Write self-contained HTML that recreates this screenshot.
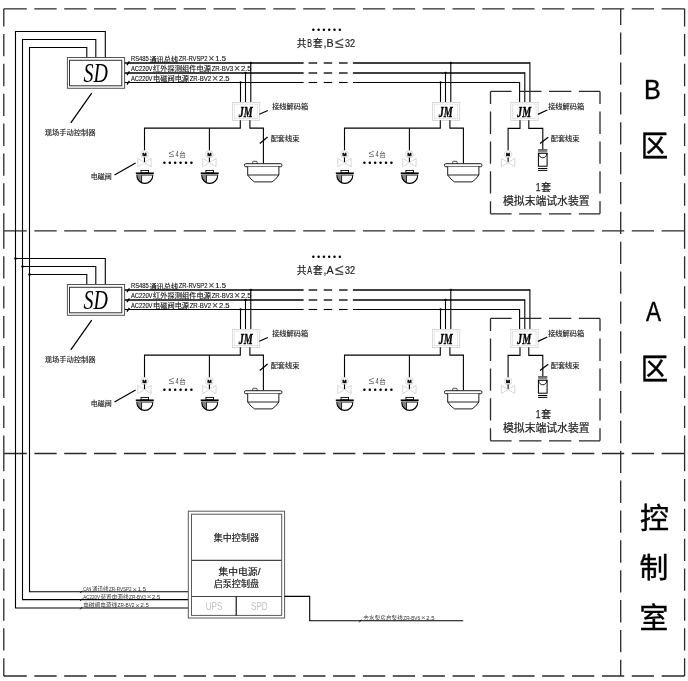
<!DOCTYPE html>
<html lang="zh"><head><meta charset="utf-8"><title>系统图</title>
<style>html,body{margin:0;padding:0;background:#fff}svg{display:block}</style></head>
<body><svg style="will-change:transform" width="688" height="681" viewBox="0 0 688 681">
<rect width="688" height="681" fill="#fff"/>
<path d="M3.80 8.80L26.78 8.80M34.35 8.80L56.65 8.80M64.22 8.80L86.52 8.80M94.09 8.80L116.39 8.80M123.96 8.80L146.26 8.80M153.83 8.80L176.13 8.80M183.70 8.80L206.00 8.80M213.57 8.80L235.87 8.80M243.44 8.80L265.74 8.80M273.31 8.80L295.61 8.80M303.18 8.80L325.48 8.80M333.05 8.80L355.35 8.80M362.92 8.80L385.22 8.80M392.79 8.80L415.09 8.80M422.66 8.80L444.96 8.80M452.53 8.80L474.83 8.80M482.40 8.80L504.70 8.80M512.27 8.80L534.57 8.80M542.14 8.80L564.44 8.80M572.01 8.80L594.31 8.80M601.88 8.80L624.18 8.80M631.75 8.80L654.05 8.80M661.62 8.80L684.60 8.80" stroke="#2a2a2a" stroke-width="1.3" fill="none"/>
<path d="M3.80 230.80L26.78 230.80M34.35 230.80L56.65 230.80M64.22 230.80L86.52 230.80M94.09 230.80L116.39 230.80M123.96 230.80L146.26 230.80M153.83 230.80L176.13 230.80M183.70 230.80L206.00 230.80M213.57 230.80L235.87 230.80M243.44 230.80L265.74 230.80M273.31 230.80L295.61 230.80M303.18 230.80L325.48 230.80M333.05 230.80L355.35 230.80M362.92 230.80L385.22 230.80M392.79 230.80L415.09 230.80M422.66 230.80L444.96 230.80M452.53 230.80L474.83 230.80M482.40 230.80L504.70 230.80M512.27 230.80L534.57 230.80M542.14 230.80L564.44 230.80M572.01 230.80L594.31 230.80M601.88 230.80L624.18 230.80M631.75 230.80L654.05 230.80M661.62 230.80L684.60 230.80" stroke="#2a2a2a" stroke-width="1.3" fill="none"/>
<path d="M3.80 453.50L26.78 453.50M34.35 453.50L56.65 453.50M64.22 453.50L86.52 453.50M94.09 453.50L116.39 453.50M123.96 453.50L146.26 453.50M153.83 453.50L176.13 453.50M183.70 453.50L206.00 453.50M213.57 453.50L235.87 453.50M243.44 453.50L265.74 453.50M273.31 453.50L295.61 453.50M303.18 453.50L325.48 453.50M333.05 453.50L355.35 453.50M362.92 453.50L385.22 453.50M392.79 453.50L415.09 453.50M422.66 453.50L444.96 453.50M452.53 453.50L474.83 453.50M482.40 453.50L504.70 453.50M512.27 453.50L534.57 453.50M542.14 453.50L564.44 453.50M572.01 453.50L594.31 453.50M601.88 453.50L624.18 453.50M631.75 453.50L654.05 453.50M661.62 453.50L684.60 453.50" stroke="#2a2a2a" stroke-width="1.3" fill="none"/>
<path d="M3.80 676.00L26.78 676.00M34.35 676.00L56.65 676.00M64.22 676.00L86.52 676.00M94.09 676.00L116.39 676.00M123.96 676.00L146.26 676.00M153.83 676.00L176.13 676.00M183.70 676.00L206.00 676.00M213.57 676.00L235.87 676.00M243.44 676.00L265.74 676.00M273.31 676.00L295.61 676.00M303.18 676.00L325.48 676.00M333.05 676.00L355.35 676.00M362.92 676.00L385.22 676.00M392.79 676.00L415.09 676.00M422.66 676.00L444.96 676.00M452.53 676.00L474.83 676.00M482.40 676.00L504.70 676.00M512.27 676.00L534.57 676.00M542.14 676.00L564.44 676.00M572.01 676.00L594.31 676.00M601.88 676.00L624.18 676.00M631.75 676.00L654.05 676.00M661.62 676.00L684.60 676.00" stroke="#2a2a2a" stroke-width="1.3" fill="none"/>
<path d="M3.80 8.80L3.80 26.40M3.80 33.97L3.80 56.27M3.80 63.84L3.80 86.14M3.80 93.71L3.80 116.01M3.80 123.58L3.80 145.89M3.80 153.46L3.80 175.76M3.80 183.33L3.80 205.63M3.80 213.20L3.80 230.80" stroke="#2a2a2a" stroke-width="1.3" fill="none"/>
<path d="M3.80 230.80L3.80 248.75M3.80 256.32L3.80 278.62M3.80 286.19L3.80 308.50M3.80 316.06L3.80 338.37M3.80 345.94L3.80 368.24M3.80 375.81L3.80 398.11M3.80 405.68L3.80 427.98M3.80 435.55L3.80 453.50" stroke="#2a2a2a" stroke-width="1.3" fill="none"/>
<path d="M3.80 453.50L3.80 471.36M3.80 478.93L3.80 501.23M3.80 508.79L3.80 531.10M3.80 538.66L3.80 560.97M3.80 568.53L3.80 590.84M3.80 598.40L3.80 620.71M3.80 628.27L3.80 650.58M3.80 658.14L3.80 676.00" stroke="#2a2a2a" stroke-width="1.3" fill="none"/>
<path d="M684.60 8.80L684.60 26.40M684.60 33.97L684.60 56.27M684.60 63.84L684.60 86.14M684.60 93.71L684.60 116.01M684.60 123.58L684.60 145.89M684.60 153.46L684.60 175.76M684.60 183.33L684.60 205.63M684.60 213.20L684.60 230.80" stroke="#2a2a2a" stroke-width="1.3" fill="none"/>
<path d="M684.60 230.80L684.60 248.75M684.60 256.32L684.60 278.62M684.60 286.19L684.60 308.50M684.60 316.06L684.60 338.37M684.60 345.94L684.60 368.24M684.60 375.81L684.60 398.11M684.60 405.68L684.60 427.98M684.60 435.55L684.60 453.50" stroke="#2a2a2a" stroke-width="1.3" fill="none"/>
<path d="M684.60 453.50L684.60 471.36M684.60 478.93L684.60 501.23M684.60 508.79L684.60 531.10M684.60 538.66L684.60 560.97M684.60 568.53L684.60 590.84M684.60 598.40L684.60 620.71M684.60 628.27L684.60 650.58M684.60 658.14L684.60 676.00" stroke="#2a2a2a" stroke-width="1.3" fill="none"/>
<path d="M620.70 8.80L620.70 24.98M620.70 32.55L620.70 54.85M620.70 62.42L620.70 84.72M620.70 92.29L620.70 114.59M620.70 122.16L620.70 144.46M620.70 152.03L620.70 174.33M620.70 181.90L620.70 204.20M620.70 211.77L620.70 234.07M620.70 241.64L620.70 263.94M620.70 271.51L620.70 293.81M620.70 301.38L620.70 323.68M620.70 331.25L620.70 353.55M620.70 361.12L620.70 383.42M620.70 390.99L620.70 413.29M620.70 420.86L620.70 443.16M620.70 450.73L620.70 473.03M620.70 480.60L620.70 502.90M620.70 510.47L620.70 532.77M620.70 540.34L620.70 562.64M620.70 570.21L620.70 592.51M620.70 600.08L620.70 622.38M620.70 629.95L620.70 652.25M620.70 659.82L620.70 676.00" stroke="#2a2a2a" stroke-width="1.3" fill="none"/>
<path d="M86.80 57.60L86.80 47.50L29.50 47.50L29.50 591.80L188.30 591.80" stroke="#000" stroke-width="1.1" fill="none" />
<path d="M95.80 57.60L95.80 39.50L22.50 39.50L22.50 599.60L188.30 599.60" stroke="#000" stroke-width="1.1" fill="none" />
<path d="M105.30 57.60L105.30 31.50L15.50 31.50L15.50 608.00L188.30 608.00" stroke="#000" stroke-width="1.1" fill="none" />
<path d="M86.80 284.60L86.80 274.50L29.50 274.50" stroke="#000" stroke-width="1.1" fill="none" />
<circle cx="29.50" cy="274.50" r="1.25" fill="#000"/>
<path d="M95.80 284.60L95.80 266.50L22.50 266.50" stroke="#000" stroke-width="1.1" fill="none" />
<circle cx="22.50" cy="266.50" r="1.25" fill="#000"/>
<path d="M105.30 284.60L105.30 258.50L15.50 258.50" stroke="#000" stroke-width="1.1" fill="none" />
<circle cx="15.50" cy="258.50" r="1.25" fill="#000"/>
<rect x="67.4" y="57.50" width="57.2" height="30.8" fill="#fff" stroke="#555" stroke-width="1"/>
<rect x="69.5" y="60.30" width="52.3" height="25.5" fill="none" stroke="#333" stroke-width="1"/>
<text x="95.80" y="82.00" font-family='"Liberation Serif","Noto Serif CJK SC",serif' font-size="27" fill="#000" text-anchor="middle" textLength="24.40" lengthAdjust="spacingAndGlyphs" font-style="italic">SD</text>
<path d="M91.70 93.20L70.80 122.90" stroke="#000" stroke-width="1.25" fill="none" />
<text y="135.20" text-anchor="middle" font-family='"Liberation Sans","Noto Sans CJK SC",sans-serif' fill="#222" stroke="#222" stroke-width="0.15"><tspan x="70.09" y="135.20" font-size="7.00" textLength="50.65" lengthAdjust="spacingAndGlyphs">现场手动控制器</tspan></text>
<path d="M124.80 63.00L303.60 63.00" stroke="#000" stroke-width="1.3" fill="none" />
<path d="M308.60 63.00L317.20 63.00" stroke="#000" stroke-width="1.3" fill="none" />
<path d="M323.70 63.00L332.20 63.00" stroke="#000" stroke-width="1.3" fill="none" />
<path d="M339.00 63.00L347.60 63.00" stroke="#000" stroke-width="1.3" fill="none" />
<path d="M352.90 63.00L529.90 63.00" stroke="#000" stroke-width="1.3" fill="none" />
<path d="M529.90 62.35L529.90 102.40" stroke="#000" stroke-width="1.1" fill="none" />
<path d="M127.00 65.10L129.40 61.40" stroke="#000" stroke-width="1.3" fill="none" />
<path d="M124.80 73.00L303.60 73.00" stroke="#000" stroke-width="1.3" fill="none" />
<path d="M308.60 73.00L317.20 73.00" stroke="#000" stroke-width="1.3" fill="none" />
<path d="M323.70 73.00L332.20 73.00" stroke="#000" stroke-width="1.3" fill="none" />
<path d="M339.00 73.00L347.60 73.00" stroke="#000" stroke-width="1.3" fill="none" />
<path d="M352.90 73.00L524.80 73.00" stroke="#000" stroke-width="1.3" fill="none" />
<path d="M524.80 72.35L524.80 102.40" stroke="#000" stroke-width="1.1" fill="none" />
<path d="M127.00 75.10L129.40 71.40" stroke="#000" stroke-width="1.3" fill="none" />
<path d="M124.80 82.50L303.60 82.50" stroke="#000" stroke-width="1.1" fill="none" />
<path d="M308.60 82.50L317.20 82.50" stroke="#000" stroke-width="1.1" fill="none" />
<path d="M323.70 82.50L332.20 82.50" stroke="#000" stroke-width="1.1" fill="none" />
<path d="M339.00 82.50L347.60 82.50" stroke="#000" stroke-width="1.1" fill="none" />
<path d="M352.90 82.50L519.60 82.50" stroke="#000" stroke-width="1.1" fill="none" />
<path d="M519.60 81.95L519.60 102.40" stroke="#000" stroke-width="1.1" fill="none" />
<path d="M127.00 84.60L129.40 80.90" stroke="#000" stroke-width="1.3" fill="none" />
<text y="61.50" text-anchor="middle" font-family='"Liberation Sans","Noto Sans CJK SC",sans-serif' fill="#111" stroke="#111" stroke-width="0.12"><tspan x="139.88" y="61.00" font-family='"Liberation Sans",sans-serif' font-size="7.30" textLength="17.91" lengthAdjust="spacingAndGlyphs">RS485</tspan><tspan x="163.73" y="61.50" font-size="7.00" textLength="28.63" lengthAdjust="spacingAndGlyphs">通讯总线</tspan><tspan x="193.09" y="61.00" font-family='"Liberation Sans",sans-serif' font-size="7.30" textLength="28.92" lengthAdjust="spacingAndGlyphs">ZR-RVSP2</tspan><tspan x="211.44" y="61.94" font-size="10.64" fill-opacity="0.8">×</tspan><tspan x="220.61" y="61.00" font-family='"Liberation Sans",sans-serif' font-size="7.30" textLength="10.57" lengthAdjust="spacingAndGlyphs">1.5</tspan></text>
<text y="71.40" text-anchor="middle" font-family='"Liberation Sans","Noto Sans CJK SC",sans-serif' fill="#111" stroke="#111" stroke-width="0.12"><tspan x="141.71" y="70.90" font-family='"Liberation Sans",sans-serif' font-size="7.30" textLength="21.58" lengthAdjust="spacingAndGlyphs">AC220V</tspan><tspan x="182.08" y="71.40" font-size="7.00" textLength="57.99" lengthAdjust="spacingAndGlyphs">红外探测组件电源</tspan><tspan x="222.45" y="70.90" font-family='"Liberation Sans",sans-serif' font-size="7.30" textLength="21.58" lengthAdjust="spacingAndGlyphs">ZR-BV3</tspan><tspan x="237.13" y="71.84" font-size="10.64" fill-opacity="0.8">×</tspan><tspan x="246.31" y="70.90" font-family='"Liberation Sans",sans-serif' font-size="7.30" textLength="10.57" lengthAdjust="spacingAndGlyphs">2.5</tspan></text>
<text y="81.40" text-anchor="middle" font-family='"Liberation Sans","Noto Sans CJK SC",sans-serif' fill="#111" stroke="#111" stroke-width="0.12"><tspan x="141.71" y="81.10" font-family='"Liberation Sans",sans-serif' font-size="7.30" textLength="21.58" lengthAdjust="spacingAndGlyphs">AC220V</tspan><tspan x="171.07" y="81.40" font-size="7.00" textLength="35.97" lengthAdjust="spacingAndGlyphs">电磁阀电源</tspan><tspan x="200.43" y="81.10" font-family='"Liberation Sans",sans-serif' font-size="7.30" textLength="21.58" lengthAdjust="spacingAndGlyphs">ZR-BV2</tspan><tspan x="215.11" y="81.84" font-size="10.64" fill-opacity="0.8">×</tspan><tspan x="224.29" y="81.10" font-family='"Liberation Sans",sans-serif' font-size="7.30" textLength="10.57" lengthAdjust="spacingAndGlyphs">2.5</tspan></text>
<path d="M240.50 82.50L240.50 102.60" stroke="#000" stroke-width="1.1" fill="none" />
<circle cx="240.50" cy="82.50" r="1.15" fill="#000"/>
<path d="M245.50 73.00L245.50 102.60" stroke="#000" stroke-width="1.1" fill="none" />
<circle cx="245.50" cy="73.00" r="1.15" fill="#000"/>
<path d="M250.80 63.00L250.80 102.60" stroke="#000" stroke-width="1.1" fill="none" />
<circle cx="250.80" cy="63.00" r="1.15" fill="#000"/>
<rect x="232.40" y="102.40" width="27.3" height="18" fill="#fff" stroke="#d6d6d6" stroke-width="0.9"/>
<rect x="234.20" y="104.10" width="23.5" height="14.5" fill="none" stroke="#dedede" stroke-width="0.8"/>
<text x="245.70" y="116.70" font-family='"Liberation Serif","Noto Serif CJK SC",serif' font-size="14.5" fill="#000" text-anchor="middle" textLength="14.00" lengthAdjust="spacingAndGlyphs" font-weight="bold" font-style="italic" stroke="#000" stroke-width="0.35">JM</text>
<path d="M240.30 120.20L240.30 128.10L144.50 128.10L144.50 150.70" stroke="#000" stroke-width="1.1" fill="none" />
<path d="M209.40 128.10L209.40 150.70" stroke="#000" stroke-width="1.1" fill="none" />
<path d="M249.90 120.20L249.90 128.10L263.40 128.10L263.40 163.40" stroke="#000" stroke-width="1.1" fill="none" />
<circle cx="144.50" cy="154.30" r="3.8" fill="#fff" stroke="#d2d2d2" stroke-width="0.8"/>
<text x="144.50" y="155.70" font-family='"Liberation Sans","Noto Sans CJK SC",sans-serif' font-size="4.2" fill="#000" text-anchor="middle" textLength="4.00" lengthAdjust="spacingAndGlyphs" font-weight="bold" stroke="#000" stroke-width="0.4">M</text>
<path d="M144.50 157.40L144.50 162.60" stroke="#000" stroke-width="1.1" fill="none" />
<path d="M137.80 158.40L137.80 166.70L151.20 158.40L151.20 166.70Z" fill="none" stroke="#d4d4d4" stroke-width="0.9"/>
<circle cx="209.40" cy="154.30" r="3.8" fill="#fff" stroke="#d2d2d2" stroke-width="0.8"/>
<text x="209.40" y="155.70" font-family='"Liberation Sans","Noto Sans CJK SC",sans-serif' font-size="4.2" fill="#000" text-anchor="middle" textLength="4.00" lengthAdjust="spacingAndGlyphs" font-weight="bold" stroke="#000" stroke-width="0.4">M</text>
<path d="M209.40 157.40L209.40 162.60" stroke="#000" stroke-width="1.1" fill="none" />
<path d="M202.70 158.40L202.70 166.70L216.10 158.40L216.10 166.70Z" fill="none" stroke="#d4d4d4" stroke-width="0.9"/>
<rect x="141.00" y="170.40" width="7.6" height="2.4" fill="#fff" stroke="#000" stroke-width="0.9"/>
<path d="M135.80 173.30L153.80 173.30" stroke="#000" stroke-width="1.7" fill="none" />
<path d="M136.50 175.10L153.10 175.10" stroke="#000" stroke-width="0.8" fill="none" />
<path d="M136.80 175.20L141.60 175.20L141.60 182.70A8.0 8.2 0 0 1 136.80 175.20Z" fill="#858585"/>
<path d="M136.80 175.20A8.0 8.2 0 0 0 152.80 175.20" fill="none" stroke="#000" stroke-width="1.1"/>
<path d="M141.60 175.30L141.60 182.60" stroke="#000" stroke-width="0.8" fill="none" />
<rect x="205.90" y="170.40" width="7.6" height="2.4" fill="#fff" stroke="#000" stroke-width="0.9"/>
<path d="M200.70 173.30L218.70 173.30" stroke="#000" stroke-width="1.7" fill="none" />
<path d="M201.40 175.10L218.00 175.10" stroke="#000" stroke-width="0.8" fill="none" />
<path d="M201.70 175.20L206.50 175.20L206.50 182.70A8.0 8.2 0 0 1 201.70 175.20Z" fill="#858585"/>
<path d="M201.70 175.20A8.0 8.2 0 0 0 217.70 175.20" fill="none" stroke="#000" stroke-width="1.1"/>
<path d="M206.50 175.30L206.50 182.60" stroke="#000" stroke-width="0.8" fill="none" />
<rect x="252.70" y="161.30" width="4.4" height="3" rx="0.7" fill="#fff" stroke="#222" stroke-width="0.8"/>
<rect x="244.50" y="163.70" width="37.4" height="3" rx="1.2" fill="#fff" stroke="#111" stroke-width="0.95"/>
<path d="M247.70 166.80L247.70 175.00Q250.70 179.60 254.50 181.90L272.10 181.90Q275.90 179.60 278.90 175.00L278.90 166.80" fill="#fff" stroke="#111" stroke-width="0.95"/>
<path d="M247.70 175.00L278.90 175.00" stroke="#111" stroke-width="0.9" fill="none" />
<text y="157.00" text-anchor="middle" font-family='"Liberation Sans","Noto Sans CJK SC",sans-serif' fill="#444"><tspan x="171.60" y="157.43" font-size="10.44" fill-opacity="0.8">≤</tspan><tspan x="177.00" y="157.00" font-family='"Liberation Sans",sans-serif' font-size="8.40" textLength="3.17" lengthAdjust="spacingAndGlyphs">4</tspan><tspan x="182.40" y="157.00" font-size="6.80" textLength="6.48" lengthAdjust="spacingAndGlyphs">台</tspan></text>
<circle cx="164.40" cy="162.70" r="1.25" fill="#000"/>
<circle cx="169.80" cy="162.70" r="1.25" fill="#000"/>
<circle cx="175.20" cy="162.70" r="1.25" fill="#000"/>
<circle cx="180.60" cy="162.70" r="1.25" fill="#000"/>
<circle cx="186.00" cy="162.70" r="1.25" fill="#000"/>
<circle cx="191.40" cy="162.70" r="1.25" fill="#000"/>
<path d="M259.40 114.20L267.80 110.50" stroke="#000" stroke-width="1.25" fill="none" />
<text y="109.30" text-anchor="middle" font-family='"Liberation Sans","Noto Sans CJK SC",sans-serif' fill="#222" stroke="#222" stroke-width="0.15"><tspan x="290.15" y="109.30" font-size="7.00" textLength="35.97" lengthAdjust="spacingAndGlyphs">接线解码箱</tspan></text>
<path d="M259.80 143.50L267.60 137.10" stroke="#000" stroke-width="1.25" fill="none" />
<text y="141.30" text-anchor="middle" font-family='"Liberation Sans","Noto Sans CJK SC",sans-serif' fill="#222" stroke="#222" stroke-width="0.15"><tspan x="284.98" y="141.30" font-size="7.00" textLength="28.63" lengthAdjust="spacingAndGlyphs">配套线束</tspan></text>
<path d="M114.50 175.00L135.60 163.00" stroke="#000" stroke-width="1.25" fill="none" />
<text y="179.10" text-anchor="middle" font-family='"Liberation Sans","Noto Sans CJK SC",sans-serif' fill="#222" stroke="#222" stroke-width="0.15"><tspan x="101.20" y="179.10" font-size="7.00" textLength="20.88" lengthAdjust="spacingAndGlyphs">电磁阀</tspan></text>
<path d="M440.50 82.50L440.50 102.60" stroke="#000" stroke-width="1.1" fill="none" />
<circle cx="440.50" cy="82.50" r="1.15" fill="#000"/>
<path d="M445.50 73.00L445.50 102.60" stroke="#000" stroke-width="1.1" fill="none" />
<circle cx="445.50" cy="73.00" r="1.15" fill="#000"/>
<path d="M450.80 63.00L450.80 102.60" stroke="#000" stroke-width="1.1" fill="none" />
<circle cx="450.80" cy="63.00" r="1.15" fill="#000"/>
<rect x="432.40" y="102.40" width="27.3" height="18" fill="#fff" stroke="#d6d6d6" stroke-width="0.9"/>
<rect x="434.20" y="104.10" width="23.5" height="14.5" fill="none" stroke="#dedede" stroke-width="0.8"/>
<text x="445.70" y="116.70" font-family='"Liberation Serif","Noto Serif CJK SC",serif' font-size="14.5" fill="#000" text-anchor="middle" textLength="14.00" lengthAdjust="spacingAndGlyphs" font-weight="bold" font-style="italic" stroke="#000" stroke-width="0.35">JM</text>
<path d="M440.30 120.20L440.30 128.10L344.50 128.10L344.50 150.70" stroke="#000" stroke-width="1.1" fill="none" />
<path d="M409.40 128.10L409.40 150.70" stroke="#000" stroke-width="1.1" fill="none" />
<path d="M449.90 120.20L449.90 128.10L463.40 128.10L463.40 163.40" stroke="#000" stroke-width="1.1" fill="none" />
<circle cx="344.50" cy="154.30" r="3.8" fill="#fff" stroke="#d2d2d2" stroke-width="0.8"/>
<text x="344.50" y="155.70" font-family='"Liberation Sans","Noto Sans CJK SC",sans-serif' font-size="4.2" fill="#000" text-anchor="middle" textLength="4.00" lengthAdjust="spacingAndGlyphs" font-weight="bold" stroke="#000" stroke-width="0.4">M</text>
<path d="M344.50 157.40L344.50 162.60" stroke="#000" stroke-width="1.1" fill="none" />
<path d="M337.80 158.40L337.80 166.70L351.20 158.40L351.20 166.70Z" fill="none" stroke="#d4d4d4" stroke-width="0.9"/>
<circle cx="409.40" cy="154.30" r="3.8" fill="#fff" stroke="#d2d2d2" stroke-width="0.8"/>
<text x="409.40" y="155.70" font-family='"Liberation Sans","Noto Sans CJK SC",sans-serif' font-size="4.2" fill="#000" text-anchor="middle" textLength="4.00" lengthAdjust="spacingAndGlyphs" font-weight="bold" stroke="#000" stroke-width="0.4">M</text>
<path d="M409.40 157.40L409.40 162.60" stroke="#000" stroke-width="1.1" fill="none" />
<path d="M402.70 158.40L402.70 166.70L416.10 158.40L416.10 166.70Z" fill="none" stroke="#d4d4d4" stroke-width="0.9"/>
<rect x="341.00" y="170.40" width="7.6" height="2.4" fill="#fff" stroke="#000" stroke-width="0.9"/>
<path d="M335.80 173.30L353.80 173.30" stroke="#000" stroke-width="1.7" fill="none" />
<path d="M336.50 175.10L353.10 175.10" stroke="#000" stroke-width="0.8" fill="none" />
<path d="M336.80 175.20L341.60 175.20L341.60 182.70A8.0 8.2 0 0 1 336.80 175.20Z" fill="#858585"/>
<path d="M336.80 175.20A8.0 8.2 0 0 0 352.80 175.20" fill="none" stroke="#000" stroke-width="1.1"/>
<path d="M341.60 175.30L341.60 182.60" stroke="#000" stroke-width="0.8" fill="none" />
<rect x="405.90" y="170.40" width="7.6" height="2.4" fill="#fff" stroke="#000" stroke-width="0.9"/>
<path d="M400.70 173.30L418.70 173.30" stroke="#000" stroke-width="1.7" fill="none" />
<path d="M401.40 175.10L418.00 175.10" stroke="#000" stroke-width="0.8" fill="none" />
<path d="M401.70 175.20L406.50 175.20L406.50 182.70A8.0 8.2 0 0 1 401.70 175.20Z" fill="#858585"/>
<path d="M401.70 175.20A8.0 8.2 0 0 0 417.70 175.20" fill="none" stroke="#000" stroke-width="1.1"/>
<path d="M406.50 175.30L406.50 182.60" stroke="#000" stroke-width="0.8" fill="none" />
<rect x="452.70" y="161.30" width="4.4" height="3" rx="0.7" fill="#fff" stroke="#222" stroke-width="0.8"/>
<rect x="444.50" y="163.70" width="37.4" height="3" rx="1.2" fill="#fff" stroke="#111" stroke-width="0.95"/>
<path d="M447.70 166.80L447.70 175.00Q450.70 179.60 454.50 181.90L472.10 181.90Q475.90 179.60 478.90 175.00L478.90 166.80" fill="#fff" stroke="#111" stroke-width="0.95"/>
<path d="M447.70 175.00L478.90 175.00" stroke="#111" stroke-width="0.9" fill="none" />
<text y="157.00" text-anchor="middle" font-family='"Liberation Sans","Noto Sans CJK SC",sans-serif' fill="#444"><tspan x="371.60" y="157.43" font-size="10.44" fill-opacity="0.8">≤</tspan><tspan x="377.00" y="157.00" font-family='"Liberation Sans",sans-serif' font-size="8.40" textLength="3.17" lengthAdjust="spacingAndGlyphs">4</tspan><tspan x="382.40" y="157.00" font-size="6.80" textLength="6.48" lengthAdjust="spacingAndGlyphs">台</tspan></text>
<circle cx="364.40" cy="162.70" r="1.25" fill="#000"/>
<circle cx="369.80" cy="162.70" r="1.25" fill="#000"/>
<circle cx="375.20" cy="162.70" r="1.25" fill="#000"/>
<circle cx="380.60" cy="162.70" r="1.25" fill="#000"/>
<circle cx="386.00" cy="162.70" r="1.25" fill="#000"/>
<circle cx="391.40" cy="162.70" r="1.25" fill="#000"/>
<rect x="510.80" y="102.40" width="27.3" height="18" fill="#fff" stroke="#d6d6d6" stroke-width="0.9"/>
<rect x="512.60" y="104.10" width="23.5" height="14.5" fill="none" stroke="#dedede" stroke-width="0.8"/>
<text x="524.10" y="116.70" font-family='"Liberation Serif","Noto Serif CJK SC",serif' font-size="14.5" fill="#000" text-anchor="middle" textLength="14.00" lengthAdjust="spacingAndGlyphs" font-weight="bold" font-style="italic" stroke="#000" stroke-width="0.35">JM</text>
<path d="M520.00 120.20L520.00 128.40L508.10 128.40L508.10 150.70" stroke="#000" stroke-width="1.1" fill="none" />
<path d="M528.80 120.20L528.80 128.40L542.80 128.40L542.80 149.20" stroke="#000" stroke-width="1.1" fill="none" />
<circle cx="508.10" cy="154.30" r="3.8" fill="#fff" stroke="#d2d2d2" stroke-width="0.8"/>
<text x="508.10" y="155.70" font-family='"Liberation Sans","Noto Sans CJK SC",sans-serif' font-size="4.2" fill="#000" text-anchor="middle" textLength="4.00" lengthAdjust="spacingAndGlyphs" font-weight="bold" stroke="#000" stroke-width="0.4">M</text>
<path d="M508.10 157.40L508.10 162.60" stroke="#000" stroke-width="1.1" fill="none" />
<path d="M501.40 158.40L501.40 166.70L514.80 158.40L514.80 166.70Z" fill="none" stroke="#d4d4d4" stroke-width="0.9"/>
<path d="M538.05 149.50L547.35 149.50" stroke="#000" stroke-width="0.6" fill="none" />
<path d="M538.05 150.65L547.35 150.65" stroke="#000" stroke-width="0.6" fill="none" />
<path d="M538.05 151.80L547.35 151.80" stroke="#000" stroke-width="0.6" fill="none" />
<rect x="538.40" y="153.30" width="8.7" height="12.9" fill="#fff" stroke="#000" stroke-width="1"/>
<path d="M538.55 153.50C539.15 159.20 546.35 159.20 546.95 153.50" fill="none" stroke="#000" stroke-width="0.9"/>
<path d="M538.05 168.50L547.35 168.50" stroke="#000" stroke-width="1" fill="none" />
<path d="M538.05 170.40L547.35 170.40" stroke="#000" stroke-width="1" fill="none" />
<path d="M537.90 114.40L547.30 110.00" stroke="#000" stroke-width="1.25" fill="none" />
<text y="109.40" text-anchor="middle" font-family='"Liberation Sans","Noto Sans CJK SC",sans-serif' fill="#222" stroke="#222" stroke-width="0.15"><tspan x="566.15" y="109.40" font-size="7.00" textLength="35.97" lengthAdjust="spacingAndGlyphs">接线解码箱</tspan></text>
<path d="M540.00 143.40L548.20 137.30" stroke="#000" stroke-width="1.25" fill="none" />
<text y="141.40" text-anchor="middle" font-family='"Liberation Sans","Noto Sans CJK SC",sans-serif' fill="#222" stroke="#222" stroke-width="0.15"><tspan x="565.08" y="141.40" font-size="7.00" textLength="28.63" lengthAdjust="spacingAndGlyphs">配套线束</tspan></text>
<text y="190.60" text-anchor="middle" font-family='"Liberation Sans","Noto Sans CJK SC",sans-serif' fill="#222" stroke="#222" stroke-width="0.25"><tspan x="538.00" y="190.60" font-family='"Liberation Sans",sans-serif' font-size="11.60" textLength="4.75" lengthAdjust="spacingAndGlyphs">1</tspan><tspan x="546.10" y="190.60" font-size="10.20" textLength="9.72" lengthAdjust="spacingAndGlyphs">套</tspan></text>
<text x="546.30" y="204.60" font-family='"Liberation Sans","Noto Sans CJK SC",sans-serif' font-size="10.8" fill="#222" text-anchor="middle" textLength="86.60" lengthAdjust="spacingAndGlyphs" stroke="#222" stroke-width="0.2">模拟末端试水装置</text>
<path d="M490.50 91.40L511.59 91.40M519.16 91.40L541.47 91.40M549.03 91.40L571.34 91.40M578.90 91.40L600.00 91.40" stroke="#2a2a2a" stroke-width="1.3" fill="none"/>
<path d="M490.50 213.80L511.59 213.80M519.16 213.80L541.47 213.80M549.03 213.80L571.34 213.80M578.90 213.80L600.00 213.80" stroke="#2a2a2a" stroke-width="1.3" fill="none"/>
<path d="M490.50 91.40L490.50 104.01M490.50 111.58L490.50 133.88M490.50 141.45L490.50 163.75M490.50 171.32L490.50 193.62M490.50 201.19L490.50 213.80" stroke="#2a2a2a" stroke-width="1.3" fill="none"/>
<path d="M600.00 91.40L600.00 104.01M600.00 111.58L600.00 133.88M600.00 141.45L600.00 163.75M600.00 171.32L600.00 193.62M600.00 201.19L600.00 213.80" stroke="#2a2a2a" stroke-width="1.3" fill="none"/>
<circle cx="313.30" cy="29.70" r="1.25" fill="#000"/>
<circle cx="318.60" cy="29.70" r="1.25" fill="#000"/>
<circle cx="323.90" cy="29.70" r="1.25" fill="#000"/>
<circle cx="329.20" cy="29.70" r="1.25" fill="#000"/>
<circle cx="334.50" cy="29.70" r="1.25" fill="#000"/>
<circle cx="339.80" cy="29.70" r="1.25" fill="#000"/>
<text y="46.90" text-anchor="middle" font-family='"Liberation Sans","Noto Sans CJK SC",sans-serif' fill="#222" stroke="#222" stroke-width="0.2"><tspan x="301.58" y="46.90" font-size="10.20" textLength="9.68" lengthAdjust="spacingAndGlyphs">共</tspan><tspan x="309.65" y="46.90" font-family='"Liberation Sans",sans-serif' font-size="11.60" textLength="4.73" lengthAdjust="spacingAndGlyphs">B</tspan><tspan x="317.72" y="46.90" font-size="10.20" textLength="9.68" lengthAdjust="spacingAndGlyphs">套</tspan><tspan x="328.48" y="46.90" font-family='"Liberation Sans",sans-serif' font-size="11.60" textLength="10.11" lengthAdjust="spacingAndGlyphs">,B</tspan><tspan x="339.24" y="47.55" font-size="15.60" fill-opacity="0.8">≤</tspan><tspan x="350.00" y="46.90" font-family='"Liberation Sans",sans-serif' font-size="11.60" textLength="10.11" lengthAdjust="spacingAndGlyphs">32</tspan></text>
<rect x="67.4" y="284.50" width="57.2" height="30.8" fill="#fff" stroke="#555" stroke-width="1"/>
<rect x="69.5" y="287.30" width="52.3" height="25.5" fill="none" stroke="#333" stroke-width="1"/>
<text x="95.80" y="309.00" font-family='"Liberation Serif","Noto Serif CJK SC",serif' font-size="27" fill="#000" text-anchor="middle" textLength="24.40" lengthAdjust="spacingAndGlyphs" font-style="italic">SD</text>
<path d="M91.70 320.20L70.80 349.90" stroke="#000" stroke-width="1.25" fill="none" />
<text y="362.20" text-anchor="middle" font-family='"Liberation Sans","Noto Sans CJK SC",sans-serif' fill="#222" stroke="#222" stroke-width="0.15"><tspan x="70.09" y="362.20" font-size="7.00" textLength="50.65" lengthAdjust="spacingAndGlyphs">现场手动控制器</tspan></text>
<path d="M124.80 290.00L303.60 290.00" stroke="#000" stroke-width="1.3" fill="none" />
<path d="M308.60 290.00L317.20 290.00" stroke="#000" stroke-width="1.3" fill="none" />
<path d="M323.70 290.00L332.20 290.00" stroke="#000" stroke-width="1.3" fill="none" />
<path d="M339.00 290.00L347.60 290.00" stroke="#000" stroke-width="1.3" fill="none" />
<path d="M352.90 290.00L529.90 290.00" stroke="#000" stroke-width="1.3" fill="none" />
<path d="M529.90 289.35L529.90 329.40" stroke="#000" stroke-width="1.1" fill="none" />
<path d="M127.00 292.10L129.40 288.40" stroke="#000" stroke-width="1.3" fill="none" />
<path d="M124.80 300.00L303.60 300.00" stroke="#000" stroke-width="1.3" fill="none" />
<path d="M308.60 300.00L317.20 300.00" stroke="#000" stroke-width="1.3" fill="none" />
<path d="M323.70 300.00L332.20 300.00" stroke="#000" stroke-width="1.3" fill="none" />
<path d="M339.00 300.00L347.60 300.00" stroke="#000" stroke-width="1.3" fill="none" />
<path d="M352.90 300.00L524.80 300.00" stroke="#000" stroke-width="1.3" fill="none" />
<path d="M524.80 299.35L524.80 329.40" stroke="#000" stroke-width="1.1" fill="none" />
<path d="M127.00 302.10L129.40 298.40" stroke="#000" stroke-width="1.3" fill="none" />
<path d="M124.80 309.50L303.60 309.50" stroke="#000" stroke-width="1.1" fill="none" />
<path d="M308.60 309.50L317.20 309.50" stroke="#000" stroke-width="1.1" fill="none" />
<path d="M323.70 309.50L332.20 309.50" stroke="#000" stroke-width="1.1" fill="none" />
<path d="M339.00 309.50L347.60 309.50" stroke="#000" stroke-width="1.1" fill="none" />
<path d="M352.90 309.50L519.60 309.50" stroke="#000" stroke-width="1.1" fill="none" />
<path d="M519.60 308.95L519.60 329.40" stroke="#000" stroke-width="1.1" fill="none" />
<path d="M127.00 311.60L129.40 307.90" stroke="#000" stroke-width="1.3" fill="none" />
<text y="288.50" text-anchor="middle" font-family='"Liberation Sans","Noto Sans CJK SC",sans-serif' fill="#111" stroke="#111" stroke-width="0.12"><tspan x="139.88" y="288.00" font-family='"Liberation Sans",sans-serif' font-size="7.30" textLength="17.91" lengthAdjust="spacingAndGlyphs">RS485</tspan><tspan x="163.73" y="288.50" font-size="7.00" textLength="28.63" lengthAdjust="spacingAndGlyphs">通讯总线</tspan><tspan x="193.09" y="288.00" font-family='"Liberation Sans",sans-serif' font-size="7.30" textLength="28.92" lengthAdjust="spacingAndGlyphs">ZR-RVSP2</tspan><tspan x="211.44" y="288.94" font-size="10.64" fill-opacity="0.8">×</tspan><tspan x="220.61" y="288.00" font-family='"Liberation Sans",sans-serif' font-size="7.30" textLength="10.57" lengthAdjust="spacingAndGlyphs">1.5</tspan></text>
<text y="298.40" text-anchor="middle" font-family='"Liberation Sans","Noto Sans CJK SC",sans-serif' fill="#111" stroke="#111" stroke-width="0.12"><tspan x="141.71" y="297.90" font-family='"Liberation Sans",sans-serif' font-size="7.30" textLength="21.58" lengthAdjust="spacingAndGlyphs">AC220V</tspan><tspan x="182.08" y="298.40" font-size="7.00" textLength="57.99" lengthAdjust="spacingAndGlyphs">红外探测组件电源</tspan><tspan x="222.45" y="297.90" font-family='"Liberation Sans",sans-serif' font-size="7.30" textLength="21.58" lengthAdjust="spacingAndGlyphs">ZR-BV3</tspan><tspan x="237.13" y="298.84" font-size="10.64" fill-opacity="0.8">×</tspan><tspan x="246.31" y="297.90" font-family='"Liberation Sans",sans-serif' font-size="7.30" textLength="10.57" lengthAdjust="spacingAndGlyphs">2.5</tspan></text>
<text y="308.40" text-anchor="middle" font-family='"Liberation Sans","Noto Sans CJK SC",sans-serif' fill="#111" stroke="#111" stroke-width="0.12"><tspan x="141.71" y="308.10" font-family='"Liberation Sans",sans-serif' font-size="7.30" textLength="21.58" lengthAdjust="spacingAndGlyphs">AC220V</tspan><tspan x="171.07" y="308.40" font-size="7.00" textLength="35.97" lengthAdjust="spacingAndGlyphs">电磁阀电源</tspan><tspan x="200.43" y="308.10" font-family='"Liberation Sans",sans-serif' font-size="7.30" textLength="21.58" lengthAdjust="spacingAndGlyphs">ZR-BV2</tspan><tspan x="215.11" y="308.84" font-size="10.64" fill-opacity="0.8">×</tspan><tspan x="224.29" y="308.10" font-family='"Liberation Sans",sans-serif' font-size="7.30" textLength="10.57" lengthAdjust="spacingAndGlyphs">2.5</tspan></text>
<path d="M240.50 309.50L240.50 329.60" stroke="#000" stroke-width="1.1" fill="none" />
<circle cx="240.50" cy="309.50" r="1.15" fill="#000"/>
<path d="M245.50 300.00L245.50 329.60" stroke="#000" stroke-width="1.1" fill="none" />
<circle cx="245.50" cy="300.00" r="1.15" fill="#000"/>
<path d="M250.80 290.00L250.80 329.60" stroke="#000" stroke-width="1.1" fill="none" />
<circle cx="250.80" cy="290.00" r="1.15" fill="#000"/>
<rect x="232.40" y="329.40" width="27.3" height="18" fill="#fff" stroke="#d6d6d6" stroke-width="0.9"/>
<rect x="234.20" y="331.10" width="23.5" height="14.5" fill="none" stroke="#dedede" stroke-width="0.8"/>
<text x="245.70" y="343.70" font-family='"Liberation Serif","Noto Serif CJK SC",serif' font-size="14.5" fill="#000" text-anchor="middle" textLength="14.00" lengthAdjust="spacingAndGlyphs" font-weight="bold" font-style="italic" stroke="#000" stroke-width="0.35">JM</text>
<path d="M240.30 347.20L240.30 355.10L144.50 355.10L144.50 377.70" stroke="#000" stroke-width="1.1" fill="none" />
<path d="M209.40 355.10L209.40 377.70" stroke="#000" stroke-width="1.1" fill="none" />
<path d="M249.90 347.20L249.90 355.10L263.40 355.10L263.40 390.40" stroke="#000" stroke-width="1.1" fill="none" />
<circle cx="144.50" cy="381.30" r="3.8" fill="#fff" stroke="#d2d2d2" stroke-width="0.8"/>
<text x="144.50" y="382.70" font-family='"Liberation Sans","Noto Sans CJK SC",sans-serif' font-size="4.2" fill="#000" text-anchor="middle" textLength="4.00" lengthAdjust="spacingAndGlyphs" font-weight="bold" stroke="#000" stroke-width="0.4">M</text>
<path d="M144.50 384.40L144.50 389.60" stroke="#000" stroke-width="1.1" fill="none" />
<path d="M137.80 385.40L137.80 393.70L151.20 385.40L151.20 393.70Z" fill="none" stroke="#d4d4d4" stroke-width="0.9"/>
<circle cx="209.40" cy="381.30" r="3.8" fill="#fff" stroke="#d2d2d2" stroke-width="0.8"/>
<text x="209.40" y="382.70" font-family='"Liberation Sans","Noto Sans CJK SC",sans-serif' font-size="4.2" fill="#000" text-anchor="middle" textLength="4.00" lengthAdjust="spacingAndGlyphs" font-weight="bold" stroke="#000" stroke-width="0.4">M</text>
<path d="M209.40 384.40L209.40 389.60" stroke="#000" stroke-width="1.1" fill="none" />
<path d="M202.70 385.40L202.70 393.70L216.10 385.40L216.10 393.70Z" fill="none" stroke="#d4d4d4" stroke-width="0.9"/>
<rect x="141.00" y="397.40" width="7.6" height="2.4" fill="#fff" stroke="#000" stroke-width="0.9"/>
<path d="M135.80 400.30L153.80 400.30" stroke="#000" stroke-width="1.7" fill="none" />
<path d="M136.50 402.10L153.10 402.10" stroke="#000" stroke-width="0.8" fill="none" />
<path d="M136.80 402.20L141.60 402.20L141.60 409.70A8.0 8.2 0 0 1 136.80 402.20Z" fill="#858585"/>
<path d="M136.80 402.20A8.0 8.2 0 0 0 152.80 402.20" fill="none" stroke="#000" stroke-width="1.1"/>
<path d="M141.60 402.30L141.60 409.60" stroke="#000" stroke-width="0.8" fill="none" />
<rect x="205.90" y="397.40" width="7.6" height="2.4" fill="#fff" stroke="#000" stroke-width="0.9"/>
<path d="M200.70 400.30L218.70 400.30" stroke="#000" stroke-width="1.7" fill="none" />
<path d="M201.40 402.10L218.00 402.10" stroke="#000" stroke-width="0.8" fill="none" />
<path d="M201.70 402.20L206.50 402.20L206.50 409.70A8.0 8.2 0 0 1 201.70 402.20Z" fill="#858585"/>
<path d="M201.70 402.20A8.0 8.2 0 0 0 217.70 402.20" fill="none" stroke="#000" stroke-width="1.1"/>
<path d="M206.50 402.30L206.50 409.60" stroke="#000" stroke-width="0.8" fill="none" />
<rect x="252.70" y="388.30" width="4.4" height="3" rx="0.7" fill="#fff" stroke="#222" stroke-width="0.8"/>
<rect x="244.50" y="390.70" width="37.4" height="3" rx="1.2" fill="#fff" stroke="#111" stroke-width="0.95"/>
<path d="M247.70 393.80L247.70 402.00Q250.70 406.60 254.50 408.90L272.10 408.90Q275.90 406.60 278.90 402.00L278.90 393.80" fill="#fff" stroke="#111" stroke-width="0.95"/>
<path d="M247.70 402.00L278.90 402.00" stroke="#111" stroke-width="0.9" fill="none" />
<text y="384.00" text-anchor="middle" font-family='"Liberation Sans","Noto Sans CJK SC",sans-serif' fill="#444"><tspan x="171.60" y="384.43" font-size="10.44" fill-opacity="0.8">≤</tspan><tspan x="177.00" y="384.00" font-family='"Liberation Sans",sans-serif' font-size="8.40" textLength="3.17" lengthAdjust="spacingAndGlyphs">4</tspan><tspan x="182.40" y="384.00" font-size="6.80" textLength="6.48" lengthAdjust="spacingAndGlyphs">台</tspan></text>
<circle cx="164.40" cy="389.70" r="1.25" fill="#000"/>
<circle cx="169.80" cy="389.70" r="1.25" fill="#000"/>
<circle cx="175.20" cy="389.70" r="1.25" fill="#000"/>
<circle cx="180.60" cy="389.70" r="1.25" fill="#000"/>
<circle cx="186.00" cy="389.70" r="1.25" fill="#000"/>
<circle cx="191.40" cy="389.70" r="1.25" fill="#000"/>
<path d="M259.40 341.20L267.80 337.50" stroke="#000" stroke-width="1.25" fill="none" />
<text y="336.30" text-anchor="middle" font-family='"Liberation Sans","Noto Sans CJK SC",sans-serif' fill="#222" stroke="#222" stroke-width="0.15"><tspan x="290.15" y="336.30" font-size="7.00" textLength="35.97" lengthAdjust="spacingAndGlyphs">接线解码箱</tspan></text>
<path d="M259.80 370.50L267.60 364.10" stroke="#000" stroke-width="1.25" fill="none" />
<text y="368.30" text-anchor="middle" font-family='"Liberation Sans","Noto Sans CJK SC",sans-serif' fill="#222" stroke="#222" stroke-width="0.15"><tspan x="284.98" y="368.30" font-size="7.00" textLength="28.63" lengthAdjust="spacingAndGlyphs">配套线束</tspan></text>
<path d="M114.50 402.00L135.60 390.00" stroke="#000" stroke-width="1.25" fill="none" />
<text y="406.10" text-anchor="middle" font-family='"Liberation Sans","Noto Sans CJK SC",sans-serif' fill="#222" stroke="#222" stroke-width="0.15"><tspan x="101.20" y="406.10" font-size="7.00" textLength="20.88" lengthAdjust="spacingAndGlyphs">电磁阀</tspan></text>
<path d="M440.50 309.50L440.50 329.60" stroke="#000" stroke-width="1.1" fill="none" />
<circle cx="440.50" cy="309.50" r="1.15" fill="#000"/>
<path d="M445.50 300.00L445.50 329.60" stroke="#000" stroke-width="1.1" fill="none" />
<circle cx="445.50" cy="300.00" r="1.15" fill="#000"/>
<path d="M450.80 290.00L450.80 329.60" stroke="#000" stroke-width="1.1" fill="none" />
<circle cx="450.80" cy="290.00" r="1.15" fill="#000"/>
<rect x="432.40" y="329.40" width="27.3" height="18" fill="#fff" stroke="#d6d6d6" stroke-width="0.9"/>
<rect x="434.20" y="331.10" width="23.5" height="14.5" fill="none" stroke="#dedede" stroke-width="0.8"/>
<text x="445.70" y="343.70" font-family='"Liberation Serif","Noto Serif CJK SC",serif' font-size="14.5" fill="#000" text-anchor="middle" textLength="14.00" lengthAdjust="spacingAndGlyphs" font-weight="bold" font-style="italic" stroke="#000" stroke-width="0.35">JM</text>
<path d="M440.30 347.20L440.30 355.10L344.50 355.10L344.50 377.70" stroke="#000" stroke-width="1.1" fill="none" />
<path d="M409.40 355.10L409.40 377.70" stroke="#000" stroke-width="1.1" fill="none" />
<path d="M449.90 347.20L449.90 355.10L463.40 355.10L463.40 390.40" stroke="#000" stroke-width="1.1" fill="none" />
<circle cx="344.50" cy="381.30" r="3.8" fill="#fff" stroke="#d2d2d2" stroke-width="0.8"/>
<text x="344.50" y="382.70" font-family='"Liberation Sans","Noto Sans CJK SC",sans-serif' font-size="4.2" fill="#000" text-anchor="middle" textLength="4.00" lengthAdjust="spacingAndGlyphs" font-weight="bold" stroke="#000" stroke-width="0.4">M</text>
<path d="M344.50 384.40L344.50 389.60" stroke="#000" stroke-width="1.1" fill="none" />
<path d="M337.80 385.40L337.80 393.70L351.20 385.40L351.20 393.70Z" fill="none" stroke="#d4d4d4" stroke-width="0.9"/>
<circle cx="409.40" cy="381.30" r="3.8" fill="#fff" stroke="#d2d2d2" stroke-width="0.8"/>
<text x="409.40" y="382.70" font-family='"Liberation Sans","Noto Sans CJK SC",sans-serif' font-size="4.2" fill="#000" text-anchor="middle" textLength="4.00" lengthAdjust="spacingAndGlyphs" font-weight="bold" stroke="#000" stroke-width="0.4">M</text>
<path d="M409.40 384.40L409.40 389.60" stroke="#000" stroke-width="1.1" fill="none" />
<path d="M402.70 385.40L402.70 393.70L416.10 385.40L416.10 393.70Z" fill="none" stroke="#d4d4d4" stroke-width="0.9"/>
<rect x="341.00" y="397.40" width="7.6" height="2.4" fill="#fff" stroke="#000" stroke-width="0.9"/>
<path d="M335.80 400.30L353.80 400.30" stroke="#000" stroke-width="1.7" fill="none" />
<path d="M336.50 402.10L353.10 402.10" stroke="#000" stroke-width="0.8" fill="none" />
<path d="M336.80 402.20L341.60 402.20L341.60 409.70A8.0 8.2 0 0 1 336.80 402.20Z" fill="#858585"/>
<path d="M336.80 402.20A8.0 8.2 0 0 0 352.80 402.20" fill="none" stroke="#000" stroke-width="1.1"/>
<path d="M341.60 402.30L341.60 409.60" stroke="#000" stroke-width="0.8" fill="none" />
<rect x="405.90" y="397.40" width="7.6" height="2.4" fill="#fff" stroke="#000" stroke-width="0.9"/>
<path d="M400.70 400.30L418.70 400.30" stroke="#000" stroke-width="1.7" fill="none" />
<path d="M401.40 402.10L418.00 402.10" stroke="#000" stroke-width="0.8" fill="none" />
<path d="M401.70 402.20L406.50 402.20L406.50 409.70A8.0 8.2 0 0 1 401.70 402.20Z" fill="#858585"/>
<path d="M401.70 402.20A8.0 8.2 0 0 0 417.70 402.20" fill="none" stroke="#000" stroke-width="1.1"/>
<path d="M406.50 402.30L406.50 409.60" stroke="#000" stroke-width="0.8" fill="none" />
<rect x="452.70" y="388.30" width="4.4" height="3" rx="0.7" fill="#fff" stroke="#222" stroke-width="0.8"/>
<rect x="444.50" y="390.70" width="37.4" height="3" rx="1.2" fill="#fff" stroke="#111" stroke-width="0.95"/>
<path d="M447.70 393.80L447.70 402.00Q450.70 406.60 454.50 408.90L472.10 408.90Q475.90 406.60 478.90 402.00L478.90 393.80" fill="#fff" stroke="#111" stroke-width="0.95"/>
<path d="M447.70 402.00L478.90 402.00" stroke="#111" stroke-width="0.9" fill="none" />
<text y="384.00" text-anchor="middle" font-family='"Liberation Sans","Noto Sans CJK SC",sans-serif' fill="#444"><tspan x="371.60" y="384.43" font-size="10.44" fill-opacity="0.8">≤</tspan><tspan x="377.00" y="384.00" font-family='"Liberation Sans",sans-serif' font-size="8.40" textLength="3.17" lengthAdjust="spacingAndGlyphs">4</tspan><tspan x="382.40" y="384.00" font-size="6.80" textLength="6.48" lengthAdjust="spacingAndGlyphs">台</tspan></text>
<circle cx="364.40" cy="389.70" r="1.25" fill="#000"/>
<circle cx="369.80" cy="389.70" r="1.25" fill="#000"/>
<circle cx="375.20" cy="389.70" r="1.25" fill="#000"/>
<circle cx="380.60" cy="389.70" r="1.25" fill="#000"/>
<circle cx="386.00" cy="389.70" r="1.25" fill="#000"/>
<circle cx="391.40" cy="389.70" r="1.25" fill="#000"/>
<rect x="510.80" y="329.40" width="27.3" height="18" fill="#fff" stroke="#d6d6d6" stroke-width="0.9"/>
<rect x="512.60" y="331.10" width="23.5" height="14.5" fill="none" stroke="#dedede" stroke-width="0.8"/>
<text x="524.10" y="343.70" font-family='"Liberation Serif","Noto Serif CJK SC",serif' font-size="14.5" fill="#000" text-anchor="middle" textLength="14.00" lengthAdjust="spacingAndGlyphs" font-weight="bold" font-style="italic" stroke="#000" stroke-width="0.35">JM</text>
<path d="M520.00 347.20L520.00 355.40L508.10 355.40L508.10 377.70" stroke="#000" stroke-width="1.1" fill="none" />
<path d="M528.80 347.20L528.80 355.40L542.80 355.40L542.80 376.20" stroke="#000" stroke-width="1.1" fill="none" />
<circle cx="508.10" cy="381.30" r="3.8" fill="#fff" stroke="#d2d2d2" stroke-width="0.8"/>
<text x="508.10" y="382.70" font-family='"Liberation Sans","Noto Sans CJK SC",sans-serif' font-size="4.2" fill="#000" text-anchor="middle" textLength="4.00" lengthAdjust="spacingAndGlyphs" font-weight="bold" stroke="#000" stroke-width="0.4">M</text>
<path d="M508.10 384.40L508.10 389.60" stroke="#000" stroke-width="1.1" fill="none" />
<path d="M501.40 385.40L501.40 393.70L514.80 385.40L514.80 393.70Z" fill="none" stroke="#d4d4d4" stroke-width="0.9"/>
<path d="M538.05 376.50L547.35 376.50" stroke="#000" stroke-width="0.6" fill="none" />
<path d="M538.05 377.65L547.35 377.65" stroke="#000" stroke-width="0.6" fill="none" />
<path d="M538.05 378.80L547.35 378.80" stroke="#000" stroke-width="0.6" fill="none" />
<rect x="538.40" y="380.30" width="8.7" height="12.9" fill="#fff" stroke="#000" stroke-width="1"/>
<path d="M538.55 380.50C539.15 386.20 546.35 386.20 546.95 380.50" fill="none" stroke="#000" stroke-width="0.9"/>
<path d="M538.05 395.50L547.35 395.50" stroke="#000" stroke-width="1" fill="none" />
<path d="M538.05 397.40L547.35 397.40" stroke="#000" stroke-width="1" fill="none" />
<path d="M537.90 341.40L547.30 337.00" stroke="#000" stroke-width="1.25" fill="none" />
<text y="336.40" text-anchor="middle" font-family='"Liberation Sans","Noto Sans CJK SC",sans-serif' fill="#222" stroke="#222" stroke-width="0.15"><tspan x="566.15" y="336.40" font-size="7.00" textLength="35.97" lengthAdjust="spacingAndGlyphs">接线解码箱</tspan></text>
<path d="M540.00 370.40L548.20 364.30" stroke="#000" stroke-width="1.25" fill="none" />
<text y="368.40" text-anchor="middle" font-family='"Liberation Sans","Noto Sans CJK SC",sans-serif' fill="#222" stroke="#222" stroke-width="0.15"><tspan x="565.08" y="368.40" font-size="7.00" textLength="28.63" lengthAdjust="spacingAndGlyphs">配套线束</tspan></text>
<text y="417.60" text-anchor="middle" font-family='"Liberation Sans","Noto Sans CJK SC",sans-serif' fill="#222" stroke="#222" stroke-width="0.25"><tspan x="538.00" y="417.60" font-family='"Liberation Sans",sans-serif' font-size="11.60" textLength="4.75" lengthAdjust="spacingAndGlyphs">1</tspan><tspan x="546.10" y="417.60" font-size="10.20" textLength="9.72" lengthAdjust="spacingAndGlyphs">套</tspan></text>
<text x="546.30" y="431.60" font-family='"Liberation Sans","Noto Sans CJK SC",sans-serif' font-size="10.8" fill="#222" text-anchor="middle" textLength="86.60" lengthAdjust="spacingAndGlyphs" stroke="#222" stroke-width="0.2">模拟末端试水装置</text>
<path d="M490.50 318.40L511.59 318.40M519.16 318.40L541.47 318.40M549.03 318.40L571.34 318.40M578.90 318.40L600.00 318.40" stroke="#2a2a2a" stroke-width="1.3" fill="none"/>
<path d="M490.50 440.80L511.59 440.80M519.16 440.80L541.47 440.80M549.03 440.80L571.34 440.80M578.90 440.80L600.00 440.80" stroke="#2a2a2a" stroke-width="1.3" fill="none"/>
<path d="M490.50 318.40L490.50 331.01M490.50 338.58L490.50 360.88M490.50 368.45L490.50 390.75M490.50 398.32L490.50 420.62M490.50 428.19L490.50 440.80" stroke="#2a2a2a" stroke-width="1.3" fill="none"/>
<path d="M600.00 318.40L600.00 331.01M600.00 338.58L600.00 360.88M600.00 368.45L600.00 390.75M600.00 398.32L600.00 420.62M600.00 428.19L600.00 440.80" stroke="#2a2a2a" stroke-width="1.3" fill="none"/>
<circle cx="313.30" cy="256.70" r="1.25" fill="#000"/>
<circle cx="318.60" cy="256.70" r="1.25" fill="#000"/>
<circle cx="323.90" cy="256.70" r="1.25" fill="#000"/>
<circle cx="329.20" cy="256.70" r="1.25" fill="#000"/>
<circle cx="334.50" cy="256.70" r="1.25" fill="#000"/>
<circle cx="339.80" cy="256.70" r="1.25" fill="#000"/>
<text y="273.90" text-anchor="middle" font-family='"Liberation Sans","Noto Sans CJK SC",sans-serif' fill="#222" stroke="#222" stroke-width="0.2"><tspan x="301.58" y="273.90" font-size="10.20" textLength="9.68" lengthAdjust="spacingAndGlyphs">共</tspan><tspan x="309.65" y="273.90" font-family='"Liberation Sans",sans-serif' font-size="11.60" textLength="4.73" lengthAdjust="spacingAndGlyphs">A</tspan><tspan x="317.72" y="273.90" font-size="10.20" textLength="9.68" lengthAdjust="spacingAndGlyphs">套</tspan><tspan x="328.48" y="273.90" font-family='"Liberation Sans",sans-serif' font-size="11.60" textLength="10.11" lengthAdjust="spacingAndGlyphs">,A</tspan><tspan x="339.24" y="274.55" font-size="15.60" fill-opacity="0.8">≤</tspan><tspan x="350.00" y="273.90" font-family='"Liberation Sans",sans-serif' font-size="11.60" textLength="10.11" lengthAdjust="spacingAndGlyphs">32</tspan></text>
<rect x="188.3" y="511.2" width="96.3" height="106.8" fill="#fff" stroke="#5a5a5a" stroke-width="1"/>
<rect x="191.5" y="514.2" width="90.2" height="101.2" fill="none" stroke="#5a5a5a" stroke-width="1"/>
<path d="M191.50 560.40L281.70 560.40" stroke="#444" stroke-width="1.1" fill="none" />
<path d="M191.50 596.50L281.70 596.50" stroke="#444" stroke-width="1.1" fill="none" />
<path d="M236.20 596.50L236.20 615.40" stroke="#000" stroke-width="1.1" fill="none" />
<text x="236.40" y="540.80" font-family='"Liberation Sans","Noto Sans CJK SC",sans-serif' font-size="8.6" fill="#222" text-anchor="middle" textLength="45.30" lengthAdjust="spacingAndGlyphs" stroke="#222" stroke-width="0.2">集中控制器</text>
<text x="239.40" y="574.60" font-family='"Liberation Sans","Noto Sans CJK SC",sans-serif' font-size="8.6" fill="#222" text-anchor="middle" textLength="42.00" lengthAdjust="spacingAndGlyphs" stroke="#222" stroke-width="0.2">集中电源/</text>
<text x="236.40" y="586.70" font-family='"Liberation Sans","Noto Sans CJK SC",sans-serif' font-size="8.6" fill="#222" text-anchor="middle" textLength="45.30" lengthAdjust="spacingAndGlyphs" stroke="#222" stroke-width="0.2">启泵控制盘</text>
<text x="214.00" y="610.00" font-family='"Liberation Sans","Noto Sans CJK SC",sans-serif' font-size="10.4" fill="#c0c0c0" text-anchor="middle" textLength="16.50" lengthAdjust="spacingAndGlyphs" >UPS</text>
<text x="259.30" y="610.00" font-family='"Liberation Sans","Noto Sans CJK SC",sans-serif' font-size="10.4" fill="#c0c0c0" text-anchor="middle" textLength="16.50" lengthAdjust="spacingAndGlyphs" >SPD</text>
<path d="M284.60 596.40L309.70 596.40L309.70 620.80L463.20 620.80" stroke="#000" stroke-width="1.1" fill="none" />
<path d="M359.20 622.30L361.40 619.60" stroke="#000" stroke-width="0.9" fill="none" />
<text y="619.60" text-anchor="middle" font-family='"Liberation Sans","Noto Sans CJK SC",sans-serif' fill="#333"><tspan x="383.12" y="619.60" font-size="5.40" textLength="39.47" lengthAdjust="spacingAndGlyphs">去水泵房启泵线</tspan><tspan x="411.72" y="619.60" font-family='"Liberation Sans",sans-serif' font-size="6.20" textLength="16.82" lengthAdjust="spacingAndGlyphs">ZR-BV6</tspan><tspan x="423.16" y="620.46" font-size="7.72" fill-opacity="0.8">×</tspan><tspan x="430.31" y="619.60" font-family='"Liberation Sans",sans-serif' font-size="6.20" textLength="8.24" lengthAdjust="spacingAndGlyphs">2.5</tspan></text>
<path d="M80.20 593.20L82.20 590.80" stroke="#000" stroke-width="0.9" fill="none" />
<path d="M80.20 601.00L82.20 598.60" stroke="#000" stroke-width="0.9" fill="none" />
<path d="M80.20 609.40L82.20 607.00" stroke="#000" stroke-width="0.9" fill="none" />
<text y="590.80" text-anchor="middle" font-family='"Liberation Sans","Noto Sans CJK SC",sans-serif' fill="#333"><tspan x="87.31" y="590.80" font-family='"Liberation Sans",sans-serif' font-size="6.20" textLength="8.27" lengthAdjust="spacingAndGlyphs">CAN</tspan><tspan x="100.22" y="590.80" font-size="5.40" textLength="16.65" lengthAdjust="spacingAndGlyphs">通讯线</tspan><tspan x="120.31" y="590.80" font-family='"Liberation Sans",sans-serif' font-size="6.20" textLength="22.62" lengthAdjust="spacingAndGlyphs">ZR-RVSP2</tspan><tspan x="134.66" y="591.66" font-size="7.75" fill-opacity="0.8">×</tspan><tspan x="141.84" y="590.80" font-family='"Liberation Sans",sans-serif' font-size="6.20" textLength="8.27" lengthAdjust="spacingAndGlyphs">1.5</tspan></text>
<text y="598.60" text-anchor="middle" font-family='"Liberation Sans","Noto Sans CJK SC",sans-serif' fill="#333"><tspan x="91.61" y="598.60" font-family='"Liberation Sans",sans-serif' font-size="6.20" textLength="16.88" lengthAdjust="spacingAndGlyphs">AC220V</tspan><tspan x="114.57" y="598.60" font-size="5.40" textLength="28.13" lengthAdjust="spacingAndGlyphs">装置电源线</tspan><tspan x="137.53" y="598.60" font-family='"Liberation Sans",sans-serif' font-size="6.20" textLength="16.88" lengthAdjust="spacingAndGlyphs">ZR-BV3</tspan><tspan x="149.01" y="599.46" font-size="7.75" fill-opacity="0.8">×</tspan><tspan x="156.19" y="598.60" font-family='"Liberation Sans",sans-serif' font-size="6.20" textLength="8.27" lengthAdjust="spacingAndGlyphs">2.5</tspan></text>
<text y="607.00" text-anchor="middle" font-family='"Liberation Sans","Noto Sans CJK SC",sans-serif' fill="#333"><tspan x="100.22" y="607.00" font-size="5.40" textLength="33.87" lengthAdjust="spacingAndGlyphs">电磁阀电源线</tspan><tspan x="126.05" y="607.00" font-family='"Liberation Sans",sans-serif' font-size="6.20" textLength="16.88" lengthAdjust="spacingAndGlyphs">ZR-BV2</tspan><tspan x="137.53" y="607.86" font-size="7.75" fill-opacity="0.8">×</tspan><tspan x="144.71" y="607.00" font-family='"Liberation Sans",sans-serif' font-size="6.20" textLength="8.27" lengthAdjust="spacingAndGlyphs">2.5</tspan></text>
<text transform="translate(652.30 98.50) scale(0.950 1.070)" font-family='"Liberation Sans","Noto Sans CJK SC",sans-serif' font-size="26.5" fill="#000" stroke="#000" stroke-width="0.4" text-anchor="middle">B</text>
<text transform="translate(654.40 156.10) scale(0.980 1.070)" font-family='"Liberation Sans","Noto Sans CJK SC",sans-serif' font-size="28" fill="#000" stroke="#000" stroke-width="0.4" text-anchor="middle">区</text>
<text transform="translate(653.40 321.40) scale(0.850 1.070)" font-family='"Liberation Sans","Noto Sans CJK SC",sans-serif' font-size="26.5" fill="#000" stroke="#000" stroke-width="0.4" text-anchor="middle">A</text>
<text transform="translate(654.40 378.50) scale(0.980 1.070)" font-family='"Liberation Sans","Noto Sans CJK SC",sans-serif' font-size="28" fill="#000" stroke="#000" stroke-width="0.4" text-anchor="middle">区</text>
<text transform="translate(654.40 528.60) scale(1.000 1.000)" font-family='"Liberation Sans","Noto Sans CJK SC",sans-serif' font-size="29.0" fill="#000" stroke="#000" stroke-width="0.4" text-anchor="middle">控</text>
<text transform="translate(653.80 577.90) scale(1.000 1.000)" font-family='"Liberation Sans","Noto Sans CJK SC",sans-serif' font-size="28.8" fill="#000" stroke="#000" stroke-width="0.4" text-anchor="middle">制</text>
<text transform="translate(654.00 628.30) scale(1.000 1.000)" font-family='"Liberation Sans","Noto Sans CJK SC",sans-serif' font-size="28.8" fill="#000" stroke="#000" stroke-width="0.4" text-anchor="middle">室</text>
</svg></body></html>
